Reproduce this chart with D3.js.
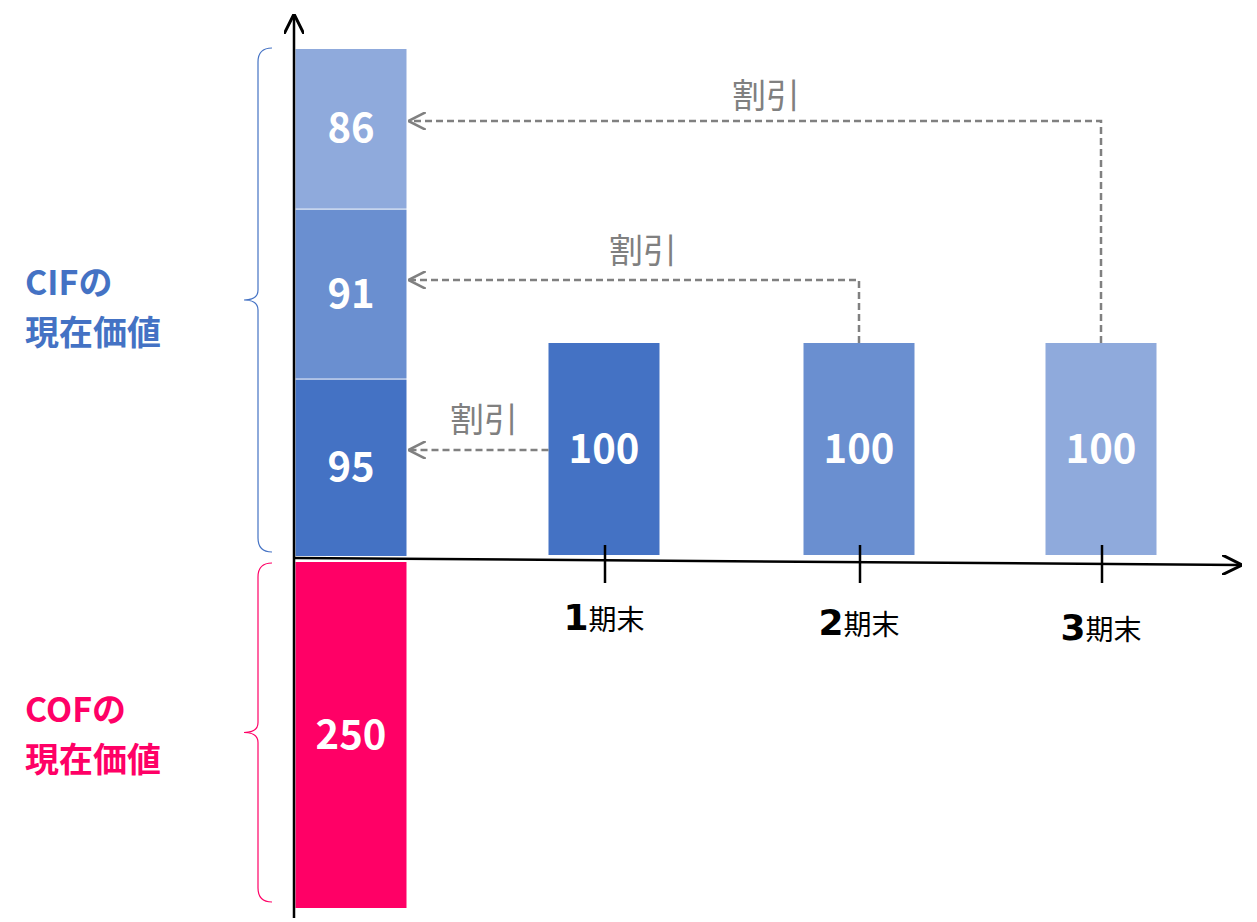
<!DOCTYPE html>
<html><head><meta charset="utf-8">
<script src="https://cdn.jsdelivr.net/npm/d3@7"></script>
<style>body{margin:0;background:#fff}text{font-family:"Noto Sans CJK JP","Noto Sans",sans-serif}</style>
</head><body><svg id="c" width="1257" height="922"></svg>
<script>
// present values stacked on the left (bottom to top)
const pvValues = [95, 91, 86];
const pvColors = ["#4472C4", "#6A8FD0", "#8FAADC"];
const cofValue = 250;
const periods = ["1", "2", "3"];
const periodCF = [100, 100, 100];
const periodColors = ["#4472C4", "#6A8FD0", "#8FAADC"];
const discountLabel = "割引";

const svg = d3.select("#c");
const axisY = 558, axisX = 294;

const x = d3.scalePoint().domain(["0", ...periods]).range([351, 1101]);
x.step(); // spacing
const xPos = d => d === "0" ? 351 : ({ "1": 604, "2": 859, "3": 1101 })[d];
const yPV = d3.scaleLinear().domain([0, d3.sum(pvValues)]).range([556, 48]);
const yCOF = d3.scaleLinear().domain([0, cofValue]).range([562, 908]);
const yCF = d3.scaleLinear().domain([0, 100]).range([555, 343]);
const barW = 111;

// stacked PV bar
let acc = 0;
const stacks = pvValues.map((v, i) => { const s = { v, y0: acc, y1: acc + v, c: pvColors[i] }; acc += v; return s; });
svg.selectAll(".pv").data(stacks).join("rect")
    .attr("x", xPos("0") - barW / 2).attr("width", barW)
    .attr("y", d => yPV(d.y1) + 1).attr("height", d => yPV(d.y0) - yPV(d.y1) - 1)
    .attr("fill", d => d.c);
svg.selectAll(".pvt").data(stacks).join("text")
    .attr("x", xPos("0")).attr("y", d => (yPV(d.y0) + yPV(d.y1)) / 2 + 14)
    .attr("text-anchor", "middle").attr("fill", "#fff").attr("font-size", 40).attr("font-weight", "bold")
    .text(d => d.v);

// COF
svg.append("rect").attr("x", xPos("0") - barW / 2).attr("width", barW)
    .attr("y", yCOF(0)).attr("height", yCOF(cofValue) - yCOF(0)).attr("fill", "#FF0066");
svg.append("text").attr("x", xPos("0")).attr("y", (yCOF(0) + yCOF(cofValue)) / 2 + 14)
    .attr("text-anchor", "middle").attr("fill", "#fff").attr("font-size", 40).attr("font-weight", "bold").text(cofValue);

// period bars
svg.selectAll(".cf").data(periods).join("rect")
    .attr("x", d => xPos(d) - barW / 2).attr("width", barW)
    .attr("y", (d, i) => yCF(periodCF[i])).attr("height", (d, i) => yCF(0) - yCF(periodCF[i]))
    .attr("fill", (d, i) => periodColors[i]);
svg.selectAll(".cft").data(periods).join("text")
    .attr("x", d => xPos(d)).attr("y", (d, i) => (yCF(0) + yCF(periodCF[i])) / 2 + 14)
    .attr("text-anchor", "middle").attr("fill", "#fff").attr("font-size", 40).attr("font-weight", "bold")
    .text((d, i) => periodCF[i]);

// axes
const defs = svg.append("defs");
defs.append("marker").attr("id", "ah").attr("viewBox", "0 0 10 10").attr("refX", 9).attr("refY", 5)
    .attr("markerWidth", 8).attr("markerHeight", 8).attr("orient", "auto")
    .append("path").attr("d", "M0,0L10,5L0,10").attr("fill", "none").attr("stroke", "#000").attr("stroke-width", 1.5);
defs.append("marker").attr("id", "ag").attr("viewBox", "0 0 10 10").attr("refX", 9).attr("refY", 5)
    .attr("markerWidth", 7).attr("markerHeight", 7).attr("orient", "auto")
    .append("path").attr("d", "M0,0L10,5L0,10").attr("fill", "none").attr("stroke", "#808080").attr("stroke-width", 1.5);
svg.append("line").attr("x1", axisX).attr("x2", axisX).attr("y1", 918).attr("y2", 16)
    .attr("stroke", "#000").attr("stroke-width", 2.5).attr("marker-end", "url(#ah)");
svg.append("line").attr("x1", axisX).attr("x2", 1240).attr("y1", axisY).attr("y2", 565)
    .attr("stroke", "#000").attr("stroke-width", 2.5).attr("marker-end", "url(#ah)");
svg.selectAll(".tk").data(periods).join("line")
    .attr("x1", d => xPos(d) + 1).attr("x2", d => xPos(d) + 1).attr("y1", 545).attr("y2", 583)
    .attr("stroke", "#000").attr("stroke-width", 2.5);
const lab = svg.selectAll(".lb").data(periods).join("text")
    .attr("x", d => xPos(d)).attr("y", (d, i) => 630 + i * 5).attr("text-anchor", "middle");
lab.append("tspan").attr("font-size", 36).attr("font-weight", "bold").attr("font-family", "Verdana,DejaVu Sans").text(d => d);
lab.append("tspan").attr("font-size", 28).text("期末");

// discount arrows
const leftEnd = 410;
const arrows = periods.map((d, i) => ({ x: xPos(d), top: yCF(periodCF[i]), lvl: [450, 280, 121][i], lab: [484, 643, 766][i], ly: [432, 263, 108][i] }));
arrows.forEach((a, i) => {
    const pts = i === 0 ? [[a.x - barW / 2, a.lvl], [leftEnd, a.lvl]] : [[a.x, a.top], [a.x, a.lvl], [leftEnd, a.lvl]];
    svg.append("path").attr("d", d3.line()(pts)).attr("fill", "none").attr("stroke", "#808080")
        .attr("stroke-width", 2.5).attr("stroke-dasharray", "7,4").attr("marker-end", "url(#ag)");
    svg.append("text").attr("x", a.lab).attr("y", a.ly).attr("text-anchor", "middle")
        .attr("font-size", 34).attr("fill", "#808080").text(discountLabel);
});

// braces
function brace(y0, y1, color) {
    const xr = 272, xm = 258, xt = 244, ym = (y0 + y1) / 2;
    const p = `M${xr},${y0} Q${xm},${y0} ${xm},${y0 + 14} L${xm},${ym - 10} Q${xm},${ym} ${xt},${ym} Q${xm},${ym} ${xm},${ym + 10} L${xm},${y1 - 14} Q${xm},${y1} ${xr},${y1}`;
    svg.append("path").attr("d", p).attr("fill", "none").attr("stroke", color).attr("stroke-width", 1.2);
}
brace(48, 552, "#4472C4");
brace(563, 902, "#FF0066");

function sideLabel(lines, y, color) {
    lines.forEach((t, i) => svg.append("text").attr("x", 25).attr("y", y + i * 50).attr("fill", color)
        .attr("font-size", 34).attr("font-weight", "bold").text(t));
}
sideLabel(["CIFの", "現在価値"], 295, "#4472C4");
sideLabel(["COFの", "現在価値"], 722, "#FF0066");
</script></body></html>
